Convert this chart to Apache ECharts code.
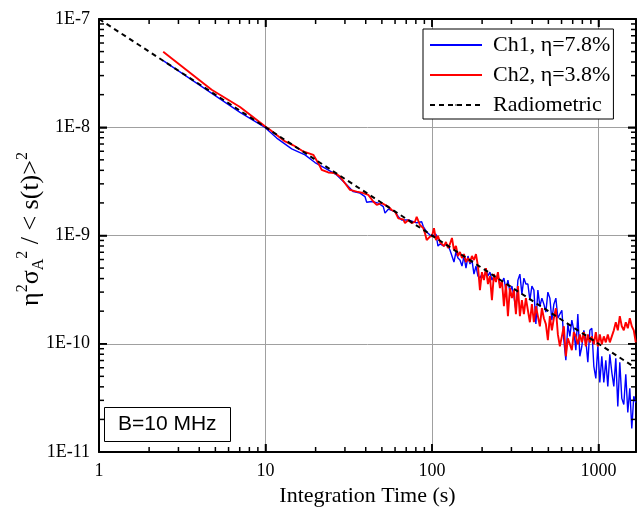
<!DOCTYPE html>
<html><head><meta charset="utf-8">
<script src="https://cdn.jsdelivr.net/npm/echarts@6/dist/echarts.min.js"></script>
<style>html,body{margin:0;padding:0;background:#fff}#c{width:640px;height:510px}</style>
</head><body><div id="c"></div>
<script>
// ---- data (integration time s, normalized Allan variance) ----
const seriesNames = ['Ch1, \u03b7=7.8%', 'Ch2, \u03b7=3.8%', 'Radiometric'];
const ch1Early = [
[2.43,4.13e-8],[7.03,1.37e-8],[9.93,9.96e-9],[11.68,7.94e-9],[14.37,6.32e-9],[17.27,5.56e-9],
[19.83,4.72e-9],[22.77,4.19e-9],[26.77,3.63e-9],[30.73,2.94e-9],[33.68,2.54e-9],[36.95,2.46e-9],
[39.58,2.29e-9],[40.53,2.03e-9],[43.43,2.06e-9],[47.59,1.99e-9],[51.0,1.85e-9],[52.2,1.61e-9],
[54.65,1.75e-9],[59.96,1.66e-9],[62.76,1.49e-9],[65.77,1.39e-9],[72.06,1.39e-9],[77.21,1.34e-9],
[80.92,1.31e-9],[86.7,1.34e-9],[88.64,1.21e-9],[92.93,1.08e-9],[97.27,1.01e-9]
];
const ch2Early = [
[2.43,4.97e-8],[4.75,2.22e-8],[7.03,1.54e-8],[9.93,1.02e-8],[10.64,9.48e-9],[13.10,7.39e-9],
[14.69,6.81e-9],[16.87,5.97e-9],[18.07,5.77e-9],[19.37,5.56e-9],[20.76,4.66e-9],[21.75,4.04e-9],
[23.84,3.82e-9],[26.15,3.77e-9],[28.02,3.50e-9],[30.02,3.04e-9],[32.17,2.64e-9],[35.29,2.54e-9],
[37.83,2.49e-9],[41.43,2.37e-9],[44.41,2.06e-9],[46.55,1.92e-9],[49.88,1.99e-9],[54.65,1.85e-9],
[57.28,1.72e-9],[59.96,1.66e-9],[62.76,1.44e-9],[67.24,1.41e-9],[68.84,1.30e-9],[72.06,1.39e-9],
[75.52,1.30e-9],[79.05,1.34e-9],[80.92,1.49e-9],[84.69,1.25e-9],[88.64,1.17e-9],[90.77,1.05e-9],
[92.93,9.08e-10],[97.27,9.75e-10]
];
const tLate = [
100,102.8,105.7,108.6,111.7,114.8,118.0,121.3,124.7,128.2,131.8,135.5,139.3,143.2,147.2,151.4,
155.6,160.0,164.5,169.1,173.8,178.7,183.7,188.8,194.1,199.5,205.1,210.9,216.8,222.8,229.1,235.5,
242.1,248.9,255.9,263.0,270.4,278.0,285.8,293.8,302.0,310.5,319.2,328.1,337.3,346.7,356.4,366.4,
376.7,387.3,398.1,409.3,420.7,432.5,444.6,457.1,469.9,483.1,496.6,510.5,524.8,539.5,554.6,570.2,
586.2,602.6,619.4,636.8,654.6,673.0,691.8,711.2,731.1,751.6,772.7,794.3,816.6,839.5,863.0,887.2,
912.0,937.6,963.9,990.9,1018.6,1047.1,1076.5,1106.7,1137.6,1169.5,1202.3,1236.0,1270.6,1306.2,
1342.8,1380.4,1419.1,1458.8,1499.7,1541.7,1584.9,1629.3,1674.9
];
const ch1Late = [
9.89e-10,9.48e-10,1.03e-9,7.99e-10,8.35e-10,8.71e-10,7.99e-10,8.35e-10,7.99e-10,7.34e-10,6.46e-10,5.68e-10,
7.04e-10,6.19e-10,5.93e-10,5.22e-10,6.46e-10,5.00e-10,6.46e-10,5.45e-10,5.93e-10,4.40e-10,5.22e-10,4.22e-10,
4.04e-10,4.40e-10,4.04e-10,4.79e-10,4.22e-10,4.59e-10,3.87e-10,4.22e-10,3.87e-10,4.40e-10,3.41e-10,3.71e-10,
4.04e-10,3.13e-10,3.87e-10,3.00e-10,3.41e-10,2.75e-10,2.04e-10,3.87e-10,4.40e-10,2.87e-10,4.04e-10,3.56e-10,
3.56e-10,2.53e-10,3.41e-10,3.13e-10,1.52e-10,3.13e-10,2.22e-10,2.64e-10,2.32e-10,1.96e-10,3.00e-10,2.64e-10,
1.65e-10,2.32e-10,2.64e-10,1.72e-10,1.88e-10,2.04e-10,1.08e-10,7.04e-11,1.52e-10,1.17e-10,1.65e-10,1.33e-10,
8.71e-11,1.88e-10,7.66e-11,9.48e-11,1.33e-10,1.08e-10,6.74e-11,1.33e-10,1.39e-10,6.19e-11,4.79e-11,9.48e-11,
4.40e-11,7.66e-11,4.40e-11,7.04e-11,4.04e-11,7.99e-11,5.45e-11,4.04e-11,7.34e-11,2.64e-11,6.74e-11,3.13e-11,
2.75e-11,5.22e-11,2.32e-11,3.87e-11,1.65e-11,3.27e-11,2.87e-11
];
const ch2Late = [
9.89e-10,1.17e-9,9.08e-10,9.89e-10,8.71e-10,9.08e-10,7.99e-10,8.71e-10,7.66e-10,8.35e-10,9.48e-10,7.34e-10,
7.99e-10,6.46e-10,7.04e-10,6.19e-10,6.74e-10,5.68e-10,6.19e-10,5.68e-10,6.46e-10,5.93e-10,6.74e-10,5.22e-10,
3.13e-10,4.59e-10,3.87e-10,5.00e-10,3.56e-10,4.22e-10,2.53e-10,4.40e-10,3.71e-10,4.59e-10,3.27e-10,3.87e-10,
2.22e-10,3.56e-10,1.80e-10,3.27e-10,2.64e-10,3.13e-10,1.88e-10,3.41e-10,1.80e-10,2.53e-10,1.88e-10,2.64e-10,
2.04e-10,1.58e-10,2.32e-10,1.58e-10,2.22e-10,1.80e-10,1.45e-10,2.13e-10,1.72e-10,1.52e-10,1.08e-10,1.80e-10,
1.33e-10,1.72e-10,2.13e-10,1.22e-10,9.48e-11,1.17e-10,1.45e-10,7.66e-11,1.12e-10,9.89e-11,8.71e-11,1.28e-10,
1.17e-10,9.89e-11,1.22e-10,1.03e-10,1.28e-10,9.48e-11,1.22e-10,1.03e-10,1.17e-10,9.89e-11,1.28e-10,9.48e-11,
1.22e-10,9.89e-11,1.17e-10,1.03e-10,1.22e-10,1.03e-10,1.17e-10,1.33e-10,1.58e-10,1.33e-10,1.80e-10,1.45e-10,
1.33e-10,1.58e-10,1.39e-10,1.72e-10,1.45e-10,1.33e-10,1.03e-10
];
const radiometric = [[1,1e-7],[1680,5.95e-11]];

// ---- axes / ticks / labels ----
const xMin = 1, xMax = 1680;
const yMin = 1e-11, yMax = 1e-7;
const xMajorTicks = [10,100,1000];
const yMajorTicks = [1e-10,1e-9,1e-8];
const xMinorTicks = [2,3,4,5,6,7,8,9,20,30,40,50,60,70,80,90,200,300,400,500,600,700,800,900];
const yMinorTicks = [2e-11,3e-11,4e-11,5e-11,6e-11,7e-11,8e-11,9e-11,
  2e-10,3e-10,4e-10,5e-10,6e-10,7e-10,8e-10,9e-10,
  2e-9,3e-9,4e-9,5e-9,6e-9,7e-9,8e-9,9e-9,
  2e-8,3e-8,4e-8,5e-8,6e-8,7e-8,8e-8,9e-8];
const boxLabel = 'B=10 MHz';
const xTitle = 'Integration Time (s)';
const yTitleRich = '{m|\u03b7}{p|2}{m|\u03c3}{b|A}{p|2}{m| / < s(t)>}{p|2}';

const ch1 = ch1Early.concat(tLate.map((t, i) => [t, ch1Late[i]]));
const ch2 = ch2Early.concat(tLate.map((t, i) => [t, ch2Late[i]]));

const SERIF = 'Liberation Serif';
const isDecade = v => Math.abs(Math.log10(v) - Math.round(Math.log10(v))) < 1e-6;

function axis(kind, position, extra) {
  const base = {
    type:'log', logBase:10,
    min: kind === 'x' ? xMin : yMin, max: kind === 'x' ? xMax : yMax,
    position: position,
    axisLine:{show:true, onZero:false, lineStyle:{color:'#000', width:2}},
    axisTick:{show:true, inside:true, length:8, lineStyle:{color:'#000', width:1.5}},
    axisLabel:{show:false}, splitLine:{show:false}, minorTick:{show:false}
  };
  return Object.assign(base, extra || {});
}

// tick marks drawn as thin rects through the axis scales
function xTickItem(params, api) {
  const v = api.value(0);
  const p = api.coord([v, api.value(1)]);
  const cs = params.coordSys;
  const len = isDecade(v) ? 8 : 5;
  return {type:'group', children:[
    {type:'rect', shape:{x:p[0]-0.75, y:cs.y+cs.height-len, width:1.5, height:len}, style:{fill:'#000'}},
    {type:'rect', shape:{x:p[0]-0.75, y:cs.y, width:1.5, height:len}, style:{fill:'#000'}}
  ]};
}
function yTickItem(params, api) {
  const v = api.value(1);
  const p = api.coord([api.value(0), v]);
  const cs = params.coordSys;
  const len = isDecade(v) ? 8 : 5;
  return {type:'group', children:[
    {type:'rect', shape:{x:cs.x, y:p[1]-0.75, width:len, height:1.5}, style:{fill:'#000'}},
    {type:'rect', shape:{x:cs.x+cs.width-len, y:p[1]-0.75, width:len, height:1.5}, style:{fill:'#000'}}
  ]};
}

const chart = echarts.init(document.getElementById('c'), null, {renderer:'canvas'});
chart.setOption({
  animation:false,
  grid:{left:99, right:4, top:19, bottom:58, containLabel:false, outerBoundsMode:'none'},
  title:{text:boxLabel, left:104, top:407, borderColor:'#000', borderWidth:1,
    padding:[7,14,7,14],
    textStyle:{fontFamily:'Liberation Sans', fontSize:21, fontWeight:'normal', color:'#000'}},
  legend:{
    data:seriesNames, orient:'vertical', left:423, top:29,
    backgroundColor:'#fff', borderColor:'#000', borderWidth:1, borderRadius:0,
    padding:[5,3,3,6], itemGap:8, itemWidth:52, itemHeight:2,
    textStyle:{fontFamily:SERIF, fontSize:22, color:'#000', padding:[0,0,0,6]}
  },
  graphic:[{
    type:'text', x:31, y:229, rotation:Math.PI/2, silent:true,
    style:{text:yTitleRich, align:'center', verticalAlign:'middle', fill:'#000',
      fontFamily:SERIF, fontSize:26,
      rich:{
        m:{fontFamily:SERIF, fontSize:26, lineHeight:32, fill:'#000'},
        p:{fontFamily:SERIF, fontSize:16, lineHeight:16, verticalAlign:'top', fill:'#000'},
        b:{fontFamily:SERIF, fontSize:16, lineHeight:16, verticalAlign:'bottom', fill:'#000'}
      }}
  }],
  xAxis:[
    axis('x', 'bottom', {
      axisLabel:{show:true, margin:10, fontFamily:SERIF, fontSize:18, color:'#000',
        formatter:v => isDecade(v) ? String(Math.round(v)) : ''},
      splitLine:{show:true, lineStyle:{color:'#a0a0a0', width:1}},
      name:xTitle, nameLocation:'middle', nameGap:33,
      nameTextStyle:{fontFamily:SERIF, fontSize:22, color:'#000'}
    }),
    axis('x', 'top')
  ],
  yAxis:[
    axis('y', 'left', {
      axisLabel:{show:true, margin:9, fontFamily:SERIF, fontSize:18, color:'#000',
        formatter:v => isDecade(v) ? '1E' + Math.round(Math.log10(v)) : ''},
      splitLine:{show:true, lineStyle:{color:'#a0a0a0', width:1}}
    }),
    axis('y', 'right')
  ],
  series:[
    {name:seriesNames[0], type:'line', data:ch1, showSymbol:false, symbol:'none',
      lineStyle:{color:'#0000ff', width:1.4}, itemStyle:{color:'#0000ff'}, z:3},
    {name:seriesNames[1], type:'line', data:ch2, showSymbol:false, symbol:'none',
      lineStyle:{color:'#ff0000', width:1.9}, itemStyle:{color:'#ff0000'}, z:4},
    {name:seriesNames[2], type:'line', data:radiometric, showSymbol:false, symbol:'none',
      lineStyle:{color:'#000', width:2, type:[5,4]}, itemStyle:{color:'#000'}, z:5},
    {type:'custom', name:'xticks', data:xMajorTicks.concat(xMinorTicks).map(v => [v, 1e-9]),
      renderItem:xTickItem, silent:true, clip:false, z:10},
    {type:'custom', name:'yticks', data:yMajorTicks.concat(yMinorTicks).map(v => [10, v]),
      renderItem:yTickItem, silent:true, clip:false, z:10}
  ]
});
</script></body></html>
